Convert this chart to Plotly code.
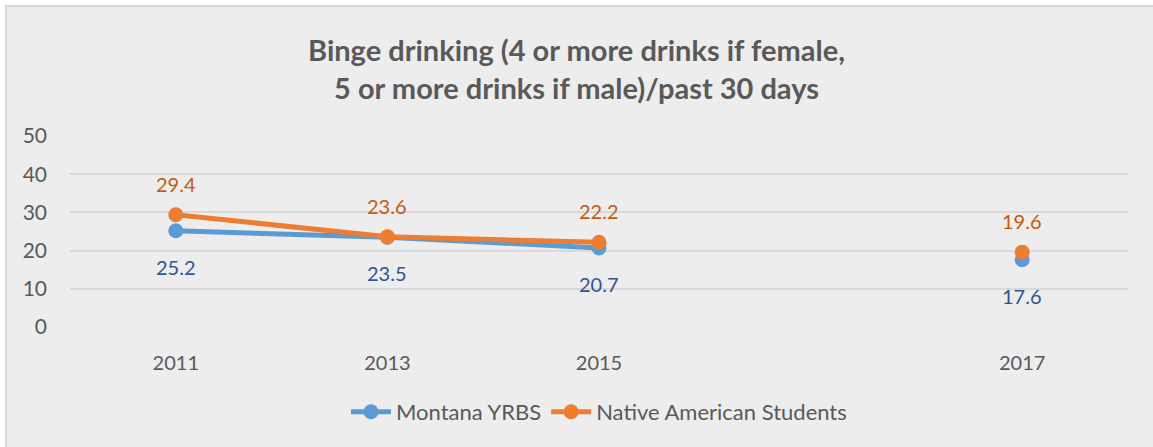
import plotly.graph_objects as go

# Survey years (empty slot keeps the gap before 2017)
years = ["2011", "2013", "2015", "", "2017"]
montana_yrbs = [25.2, 23.5, 20.7, None, 17.6]
native_american = [29.4, 23.6, 22.2, None, 19.6]

y_ticks = [0, 10, 20, 30, 40, 50]

BLUE = "#5B9BD5"
ORANGE = "#ED7D31"
BLUE_LABEL = "#2F5597"
ORANGE_LABEL = "#C55A11"
TEXT = "#595959"
FONT = "Lato"

W, H = 1153, 447
L, R, T, B = 70, 25, 136, 120
PW, PH = W - L - R, H - T - B

xpos = list(range(len(years)))

fig = go.Figure()
fig.add_trace(go.Scatter(
    x=xpos, y=montana_yrbs, name="Montana YRBS", mode="lines+markers",
    line=dict(color=BLUE, width=5), marker=dict(color=BLUE, size=15),
    connectgaps=False,
))
fig.add_trace(go.Scatter(
    x=xpos, y=native_american, name="Native American Students", mode="lines+markers",
    line=dict(color=ORANGE, width=5), marker=dict(color=ORANGE, size=15),
    connectgaps=False,
))

# value labels: orange above, blue below
for xi, v in zip(xpos, native_american):
    if v is not None:
        fig.add_annotation(x=xi, y=v, text=f"{v:.1f}", showarrow=False, yshift=31,
                           font=dict(family=FONT, size=20, color=ORANGE_LABEL))
for xi, v in zip(xpos, montana_yrbs):
    if v is not None:
        fig.add_annotation(x=xi, y=v, text=f"{v:.1f}", showarrow=False, yshift=-36,
                           font=dict(family=FONT, size=20, color=BLUE_LABEL))

# chart area background with thin border
def px_to_paper_x(px):
    return (px - L) / PW

def px_to_paper_y(py):
    return (H - B - py) / PH

fig.add_shape(type="rect", xref="paper", yref="paper",
              x0=px_to_paper_x(6), x1=px_to_paper_x(W + 10),
              y0=px_to_paper_y(H + 10), y1=px_to_paper_y(6),
              fillcolor="#EDEDED", line=dict(color="#D9D9D9", width=2), layer="below")

fig.update_layout(
    width=W, height=H,
    margin=dict(l=L, r=R, t=T, b=B),
    paper_bgcolor="white",
    plot_bgcolor="rgba(0,0,0,0)",
    font=dict(family=FONT, color=TEXT),
    title=dict(
        text="<b>Binge drinking (4 or more drinks if female,<br>5 or more drinks if male)/past 30 days</b>",
        x=0.5, xanchor="center", xref="container",
        y=1 - 61 / H, yanchor="top", yref="container",
        font=dict(family=FONT, size=29, color=TEXT),
    ),
    xaxis=dict(
        range=[-0.5, len(years) - 0.5],
        tickvals=xpos, ticktext=years,
        showgrid=False, zeroline=False, showline=False, ticks="",
        tickfont=dict(family=FONT, size=20, color=TEXT),
        ticklabelstandoff=22,
        fixedrange=True,
    ),
    yaxis=dict(
        range=[0, 50], tickvals=y_ticks,
        showgrid=True, gridcolor="#D9D9D9", gridwidth=1.5,
        zeroline=False, showline=False, ticks="",
        tickfont=dict(family=FONT, size=21, color=TEXT),
        ticklabelstandoff=22,
        fixedrange=True,
    ),
    legend=dict(
        orientation="h", x=0.5, xanchor="center",
        y=px_to_paper_y(412), yanchor="middle",
        font=dict(family=FONT, size=22, color=TEXT),
        bgcolor="rgba(0,0,0,0)",
        itemwidth=40,
    ),
    showlegend=True,
)

fig.write_html("out.html")
